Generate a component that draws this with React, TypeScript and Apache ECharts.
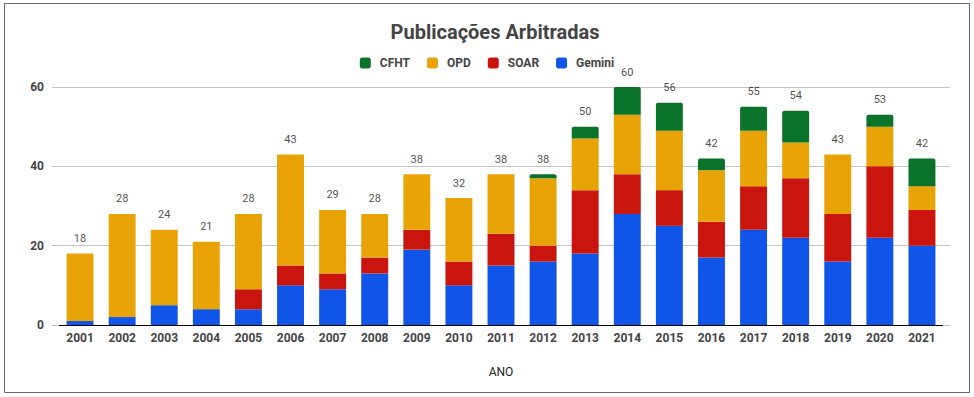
import React, { useEffect, useRef } from "react";
import * as echarts from "echarts";

const years = ["2001","2002","2003","2004","2005","2006","2007","2008","2009","2010","2011","2012","2013","2014","2015","2016","2017","2018","2019","2020","2021"];
const gemini = [1, 2, 5, 4, 4, 10, 9, 13, 19, 10, 15, 16, 18, 28, 25, 17, 24, 22, 16, 22, 20];
const soar = [0, 0, 0, 0, 5, 5, 4, 4, 5, 6, 8, 4, 16, 10, 9, 9, 11, 15, 12, 18, 9];
const opd = [17, 26, 19, 17, 19, 28, 16, 11, 14, 16, 15, 17, 13, 15, 15, 13, 14, 9, 15, 10, 6];
const cfht = [0, 0, 0, 0, 0, 0, 0, 0, 0, 0, 0, 1, 3, 7, 7, 3, 6, 8, 0, 3, 7];
const totals = [18, 28, 24, 21, 28, 43, 29, 28, 38, 32, 38, 38, 50, 60, 56, 42, 55, 54, 43, 53, 42];
const yTicks = [0, 20, 40, 60];

const FONT = "Roboto";
const GRID_COLOR = "#c4c4c4";

export default function App() {
  const ref = useRef<HTMLDivElement>(null);
  useEffect(() => {
    if (!ref.current) return;
    const chart = echarts.init(ref.current, null, { renderer: "svg" });
    const barSeries = (name: string, data: number[], color: string, radius = 0) => ({
      name,
      type: "bar",
      stack: "total",
      data,
      barWidth: "64%",
      itemStyle: { color, borderRadius: radius ? [radius, radius, 0, 0] : 0 },
      emphasis: { disabled: true },
    });
    chart.setOption({
      animation: false,
      backgroundColor: "#ffffff",
      textStyle: { fontFamily: FONT },
      title: {
        text: "Publicações Arbitradas",
        left: 490,
        textAlign: "center",
        top: 17,
        textStyle: { fontFamily: FONT, fontSize: 20, fontWeight: "bold", color: "#444444" },
      },
      legend: {
        data: ["CFHT", "OPD", "SOAR", "Gemini"],
        left: "center",
        top: 52,
        icon: "roundRect",
        itemWidth: 11,
        itemHeight: 11,
        itemGap: 17,
        textStyle: { fontFamily: FONT, fontSize: 12, fontWeight: "bold", color: "#444444", padding: [0, 0, 0, 4] },
      },
      graphic: [
        {
          type: "rect",
          shape: { x: 4.5, y: 3.5, width: 965, height: 389 },
          style: { fill: "none", stroke: "#666666", lineWidth: 1 },
          silent: true,
        },
      ],
      grid: { left: 59, right: 31, top: 87, bottom: 72 },
      xAxis: {
        type: "category",
        data: years,
        name: "ANO",
        nameLocation: "middle",
        nameGap: 41,
        nameTextStyle: { fontFamily: FONT, fontSize: 12, color: "#222222" },
        axisLine: { lineStyle: { color: "#000000", width: 1 } },
        axisTick: { show: false },
        axisLabel: { fontFamily: FONT, fontSize: 12, fontWeight: "bold", color: "#444444", margin: 7 },
      },
      yAxis: [
        {
          type: "value",
          min: yTicks[0],
          max: yTicks[yTicks.length - 1],
          interval: yTicks[1] - yTicks[0],
          axisLine: { show: false },
          axisTick: { show: true, length: 7, lineStyle: { color: GRID_COLOR } },
          splitLine: { lineStyle: { color: GRID_COLOR } },
          axisLabel: { fontFamily: FONT, fontSize: 12, fontWeight: "bold", color: "#444444", margin: 15 },
        },
        {
          type: "value",
          position: "right",
          min: yTicks[0],
          max: yTicks[yTicks.length - 1],
          interval: yTicks[1] - yTicks[0],
          axisLine: { show: false },
          axisTick: { show: true, length: 7, lineStyle: { color: GRID_COLOR } },
          splitLine: { show: false },
          axisLabel: { show: false },
        },
      ],
      series: [
        barSeries("Gemini", gemini, "#1155E8"),
        barSeries("SOAR", soar, "#C9150D"),
        barSeries("OPD", opd, "#E8A306"),
        barSeries("CFHT", cfht, "#0A7229", 2),
        {
          name: "Total",
          type: "scatter",
          data: totals,
          symbol: "circle",
          symbolSize: 1,
          itemStyle: { color: "rgba(0,0,0,0)" },
          silent: true,
          z: 10,
          label: {
            show: true,
            position: "top",
            distance: 9,
            fontFamily: FONT,
            fontSize: 11,
            color: "#222222",
          },
        },
      ],
    });
    return () => chart.dispose();
  }, []);
  return (
    <div
      ref={ref}
      style={{ position: "absolute", left: 0, top: 0, width: 974, height: 397, background: "#ffffff" }}
    />
  );
}
